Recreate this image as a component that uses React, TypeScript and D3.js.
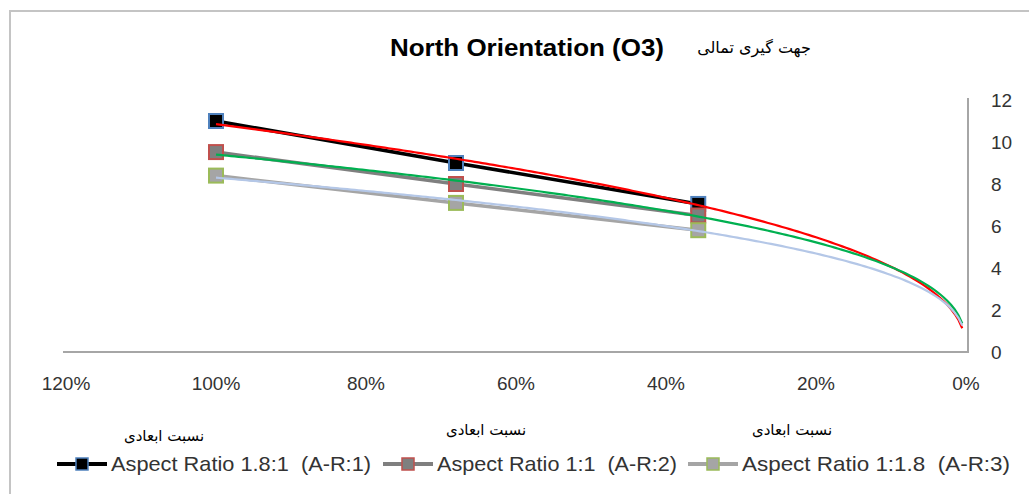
import React from "react";
import * as d3 from "d3";

const W = 1029;
const H = 494;

const ratios = [1.0, 0.68, 0.357];
const seriesNames = [
  "Aspect Ratio 1.8:1  (A-R:1)",
  "Aspect Ratio 1:1  (A-R:2)",
  "Aspect Ratio 1:1.8  (A-R:3)",
];
const ar1 = [11.0, 9.0, 7.05];
const ar2 = [9.52, 8.0, 6.5];
const ar3 = [8.4, 7.1, 5.8];
const xTicks = [1.2, 1.0, 0.8, 0.6, 0.4, 0.2, 0];
const yTicks = [0, 2, 4, 6, 8, 10, 12];
const xLabelsFa = ["نسبت ابعادی", "نسبت ابعادی", "نسبت ابعادی"];
const titleEn = "North Orientation (O3)";
const titleFa = "جهت گیری تمالی";
const trendEnd = 0.005;

const styles = [
  { line: "#000000", fill: "#000000", border: "#4f81bd", trend: "#ff0000" },
  { line: "#7f7f7f", fill: "#7f7f7f", border: "#c0504d", trend: "#00b050" },
  { line: "#a5a5a5", fill: "#a5a5a5", border: "#9bbb59", trend: "#b4c7e7" },
];

function powerFit(xs: number[], ys: number[]) {
  const lx = xs.map(Math.log);
  const ly = ys.map(Math.log);
  const n = xs.length;
  const mx = d3.mean(lx)!;
  const my = d3.mean(ly)!;
  let num = 0, den = 0;
  for (let i = 0; i < n; i++) {
    num += (lx[i] - mx) * (ly[i] - my);
    den += (lx[i] - mx) * (lx[i] - mx);
  }
  const b = num / den;
  const a = Math.exp(my - b * mx);
  return (x: number) => a * Math.pow(x, b);
}

export default function App() {
  const x = d3.scaleLinear().domain([1.2, 0]).range([66, 966]);
  const y = d3.scaleLinear().domain([0, 12]).range([352, 100]);
  const data = [ar1, ar2, ar3];
  const line = d3
    .line<[number, number]>()
    .x((d) => x(d[0]))
    .y((d) => y(d[1]));

  const trendXs: number[] = [];
  for (let t = 1; t >= trendEnd - 1e-9; t -= 0.005) trendXs.push(Math.max(t, trendEnd));

  const font = "'Liberation Sans', Arial, sans-serif";
  const faFont = "'DejaVu Sans', sans-serif";
  const legendX = [57, 383, 688];
  const legendLen = [260, 240, 268];

  return (
    <svg width={W} height={H} style={{ position: "absolute", left: 0, top: 0, background: "#fff" }}>
      <rect x={0} y={0} width={W} height={H} fill="#fff" />
      {/* chart border */}
      <path d={`M10,${H + 5} L10,11 L${W + 5},11`} fill="none" stroke="#c4c4c4" strokeWidth={2} />
      {/* title */}
      <text
        x={390}
        y={56}
        fontFamily={font}
        fontWeight="bold"
        fontSize={24}
        fill="#000"
        textLength={274}
        lengthAdjust="spacingAndGlyphs"
      >
        {titleEn}
      </text>
      <text x={754} y={53} fontFamily={faFont} fontSize={16} fill="#000" textAnchor="middle">
        {titleFa}
      </text>
      {/* axes */}
      <line x1={63} x2={968} y1={352} y2={352} stroke="#a6a6a6" strokeWidth={2} />
      <line x1={968} x2={968} y1={98} y2={353} stroke="#a6a6a6" strokeWidth={2} />
      {xTicks.map((t) => (
        <text key={t} x={x(t)} y={390} fontFamily={font} fontSize={19} textAnchor="middle" fill="#333">
          {d3.format(".0%")(t)}
        </text>
      ))}
      {yTicks.map((t) => (
        <text key={t} x={991} y={y(t) + 7} fontFamily={font} fontSize={19} textAnchor="start" fill="#333">
          {t}
        </text>
      ))}
      {/* series */}
      {data.map((vals, i) => (
        <g key={i}>
          <path
            d={line(ratios.map((r, j) => [r, vals[j]] as [number, number])) || ""}
            fill="none"
            stroke={styles[i].line}
            strokeWidth={3.5}
          />
          {ratios.map((r, j) => (
            <rect
              key={j}
              x={x(r) - 7}
              y={y(vals[j]) - 7}
              width={14}
              height={14}
              fill={styles[i].fill}
              stroke={styles[i].border}
              strokeWidth={2}
            />
          ))}
        </g>
      ))}
      {/* trendlines */}
      {data.map((vals, i) => {
        const f = powerFit(ratios, vals);
        return (
          <path
            key={"t" + i}
            d={line(trendXs.map((t) => [t, f(t)] as [number, number])) || ""}
            fill="none"
            stroke={styles[i].trend}
            strokeWidth={2.2}
          />
        );
      })}
      {/* persian category labels */}
      {[
        [164, 441],
        [486, 435],
        [792, 435],
      ].map((p, i) => (
        <text key={"fa" + i} x={p[0]} y={p[1]} fontFamily={faFont} fontSize={15} textAnchor="middle" fill="#000">
          {xLabelsFa[i]}
        </text>
      ))}
      {/* legend */}
      {seriesNames.map((name, i) => (
        <g key={"lg" + i}>
          <line x1={legendX[i]} x2={legendX[i] + 50} y1={464} y2={464} stroke={styles[i].line} strokeWidth={4} />
          <rect
            x={legendX[i] + 25 - 6}
            y={464 - 6}
            width={12}
            height={12}
            fill={styles[i].fill}
            stroke={styles[i].border}
            strokeWidth={1.5}
          />
          <text
            x={legendX[i] + 54}
            y={471}
            fontFamily={font}
            fontSize={21}
            fill="#333"
            textLength={legendLen[i]}
            lengthAdjust="spacingAndGlyphs"
            style={{ whiteSpace: "pre" }}
          >
            {name}
          </text>
        </g>
      ))}
    </svg>
  );
}
